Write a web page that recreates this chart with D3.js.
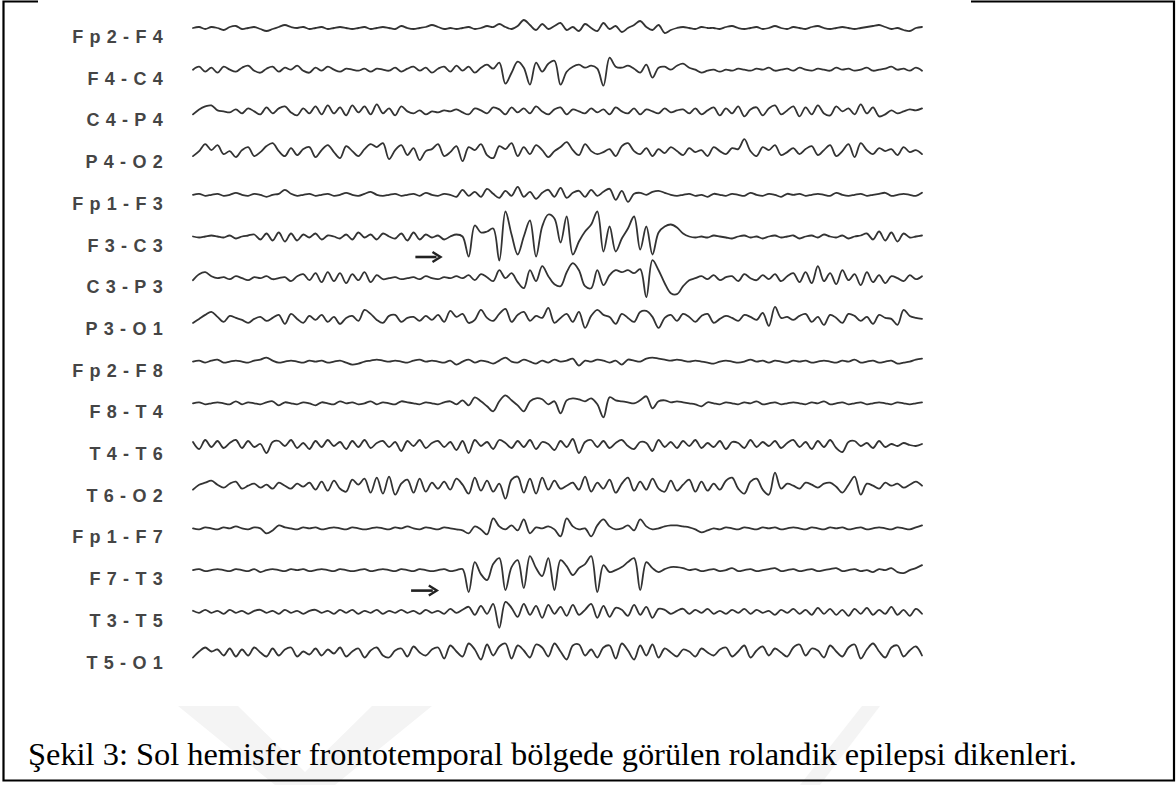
<!DOCTYPE html>
<html>
<head>
<meta charset="utf-8">
<script src="https://cdn.jsdelivr.net/npm/d3@7"></script>
<style>
  html, body { margin: 0; padding: 0; background: #fff; }
  svg { display: block; }
</style>
</head>
<body>
<div id="graph"></div>
<script>
//channel names, top to bottom
var channels = ["Fp2-F4", "F4-C4", "C4-P4", "P4-O2", "Fp1-F3", "F3-C3", "C3-P3", "P3-O1",
                "Fp2-F8", "F8-T4", "T4-T6", "T6-O2", "Fp1-F7", "F7-T3", "T3-T5", "T5-O1"];

//traces (up is positive, roughly in pixels)
var fp2f4 = [0,1,-1,1,0,-2,1,2,-1,0,1,-1,-3,-1,1,3,1,0,1,-1,
  0,1,-1,0,1,0,-1,0,1,-1,0,1,0,-1,2,0,-1,0,1,3,
  1,-1,0,-1,0,1,-1,0,2,1,4,1,-1,2,8,3,-2,4,-1,2,
  5,-2,1,-3,4,0,-3,5,-1,2,-4,0,3,7,1,-2,3,-5,-2,0,
  1,0,-1,1,0,0,-1,1,2,0,-1,0,1,-1,0,2,0,-1,1,0,
  -1,1,2,0,-1,0,1,0,-1,0,1,2,3,1,-1,0,-2,-3,0,1];
var f4c4 = [0,3,-2,2,-3,3,0,-2,2,4,-1,-3,1,3,-2,2,0,4,-1,-3,
  2,-1,3,0,-2,1,0,-1,1,-2,1,0,-1,2,-2,1,3,-1,2,-3,
  1,3,-2,4,-1,3,-3,2,5,1,7,-14,-3,8,2,-15,7,-2,6,9,
  -15,-2,3,5,2,4,1,-16,12,3,2,4,1,-3,5,-8,2,3,0,4,
  6,2,0,-3,-1,0,-2,0,-1,1,0,-1,1,0,2,-1,0,1,-1,2,
  0,-1,1,0,-1,2,0,1,-1,0,2,-1,0,1,3,0,1,-1,2,-1];
var c4p4 = [-3,2,5,6,1,0,-1,2,-2,3,0,-3,4,-2,3,5,-1,-4,3,-2,
  5,-3,6,-2,4,-4,6,-1,5,-3,7,-2,3,-4,5,0,-2,1,-3,0,
  -1,1,0,2,-1,-3,3,1,-2,4,2,-3,4,-1,3,-2,5,0,-3,2,
  4,-3,2,0,-2,3,-1,2,-3,4,0,-2,3,-3,2,0,-2,3,-1,1,
  2,-2,3,-3,1,4,-4,3,-2,5,-5,2,4,-4,3,6,-3,1,5,-5,
  4,-3,6,-2,-4,5,0,3,-3,7,-2,4,-5,-3,1,-2,0,2,1,3];
var p4o2 = [-3,2,9,3,8,-1,2,-4,3,6,-3,1,7,10,2,-3,5,-2,4,6,
  -4,3,8,1,-5,7,2,-3,4,9,6,10,-6,3,8,-2,5,-7,2,4,
  9,-3,1,7,-8,6,3,9,-2,-5,7,4,10,-3,6,-1,8,3,-4,2,
  6,11,3,-2,9,2,-1,1,4,-3,7,10,2,-1,5,-3,4,0,6,2,
  -2,5,1,3,-3,6,2,-1,5,4,14,2,-3,6,3,8,-2,1,5,-1,
  4,7,-2,3,8,-3,2,9,-4,10,3,-1,5,2,4,-2,6,1,3,-1];
var fp1f3 = [0,1,-1,0,1,-1,0,2,0,-1,1,0,-2,0,1,5,1,-1,0,1,
  -1,0,1,-1,0,2,0,-1,1,3,0,-1,0,1,-1,0,1,-1,2,0,
  -1,1,0,-2,5,-1,3,-2,6,1,-3,4,-1,8,-2,3,-4,2,5,-2,
  7,-3,2,4,-2,5,-1,3,6,-5,4,-7,1,2,0,3,4,2,0,-1,
  0,1,-1,0,-2,1,0,-1,1,0,-1,2,0,-1,1,0,-2,1,0,1,
  -1,0,1,0,-1,2,0,-1,0,1,-1,0,1,2,-1,0,1,0,-1,2];
var f3c3 = [0,-1,0,1,0,-1,1,-2,0,1,2,-3,3,-4,4,-5,3,-4,2,-1,
  3,-3,1,0,-2,2,-3,4,-1,2,-3,3,0,-2,3,-4,4,-3,2,-1,
  1,-3,0,2,0,-20,11,4,5,8,-24,25,2,-18,0,16,-20,10,22,18,
  -6,20,-18,-5,5,12,25,-15,10,-15,-2,8,20,-13,10,-18,4,10,12,9,
  3,0,-1,0,-1,1,0,-1,-2,0,1,-1,0,-2,0,1,-1,0,1,-2,
  0,1,-1,2,0,-1,1,-2,0,1,3,-3,5,-4,4,-5,3,-1,0,1];
var c3p3 = [-2,4,6,2,0,1,-1,2,0,-2,1,0,2,-1,0,1,-3,2,4,-2,
  5,-4,6,-3,5,-5,4,-2,6,-4,3,-1,0,1,-1,0,1,-1,2,0,
  -1,1,0,2,0,3,-2,4,1,-3,8,0,5,-4,-10,8,-3,12,2,-6,
  -8,6,15,8,-8,-10,8,-7,3,8,6,8,5,9,-19,18,8,-5,-15,-16,
  -8,-2,0,2,-1,3,-2,1,2,-3,4,0,-2,3,-1,4,-3,2,5,-4,
  6,-5,12,-3,5,-6,8,-2,4,-7,6,-4,3,-5,2,0,-3,3,-1,2];
var p3o1 = [-3,1,5,8,3,-2,4,2,0,-3,1,3,-1,2,5,-4,6,1,-3,4,
  0,5,-2,3,-4,2,4,-1,10,6,0,-3,4,5,-2,2,3,-1,4,0,
  5,-2,9,3,6,-3,0,10,2,-1,6,11,-2,5,8,-1,4,2,12,-3,
  2,6,-2,8,-8,4,10,5,3,-4,6,2,-2,8,9,3,-8,2,5,-1,
  6,3,-2,4,6,-3,1,4,2,-1,5,3,0,7,-6,13,2,3,0,4,
  6,-2,3,-5,5,2,-3,6,4,-1,3,-4,5,2,1,-5,10,4,2,1];
var fp2f8 = [0,1,-1,1,2,-1,0,1,0,-1,1,2,4,1,-1,0,1,0,-1,1,
  0,1,-1,0,1,-1,-3,-2,0,1,2,1,0,1,0,-1,1,2,0,1,
  0,-1,1,-3,0,2,-1,1,0,-2,1,4,0,-1,2,0,-2,1,-1,2,
  0,1,3,-4,1,0,2,1,-1,1,-3,2,1,0,3,4,3,2,1,2,
  1,0,1,0,-1,-2,0,1,0,-1,0,2,0,1,-1,1,0,-1,1,0,
  1,-1,0,1,0,-1,1,0,2,-1,0,1,-1,0,1,-2,-1,0,2,3];
var f8t4 = [0,1,-1,0,1,0,-1,2,-1,1,0,-1,1,2,-2,1,0,-1,1,0,
  -2,1,0,-1,2,0,1,-1,0,2,-1,1,0,-1,2,1,0,-1,1,0,
  -1,1,2,-1,3,-2,6,2,-3,-8,2,8,3,-2,-8,2,5,4,-1,2,
  -10,3,5,4,2,5,-1,-14,6,3,2,1,0,3,7,-5,2,3,1,2,
  1,0,-1,-3,1,0,-1,1,0,-1,1,0,2,-1,0,1,-1,0,1,0,
  -1,1,0,2,-1,0,1,-1,0,1,-1,0,1,0,-1,1,0,-1,0,1];
var t4t6 = [3,-4,5,-2,4,-3,2,5,-3,4,-2,1,-8,3,4,-1,5,-3,2,-4,
  4,-2,5,-1,3,-4,4,-2,5,-3,2,4,-2,3,-6,4,-1,5,-3,2,
  4,-2,3,-5,4,-8,5,-1,3,-4,5,2,-3,4,-2,5,-4,3,1,-5,
  4,-2,6,-8,3,5,-2,4,-3,2,5,-1,-4,3,2,-6,5,-2,3,-3,
  4,-1,5,-3,2,-2,4,-4,3,2,-3,5,-2,3,-1,4,-3,2,5,-2,
  3,-4,4,-2,5,-3,-7,3,4,-1,2,-3,4,-2,1,-1,2,0,-1,1];
var t6o2 = [-3,2,4,6,2,-1,3,5,-2,1,3,-1,2,-2,4,1,-2,3,0,4,
  -3,5,-4,6,-2,-5,7,2,8,-6,9,-7,10,-8,3,7,-6,8,-5,4,
  -2,5,-3,8,2,-7,9,-4,6,-5,3,-12,7,10,-6,8,-7,9,-3,6,
  -2,1,4,-3,10,-5,4,-2,7,-6,3,9,-4,5,-3,8,-2,-5,6,-4,
  2,7,-5,5,-4,3,-3,6,9,-2,-7,5,8,-3,-8,14,-2,3,1,-2,
  4,2,-1,3,4,0,-6,2,10,-8,3,1,-2,4,1,3,-1,2,5,1];
var fp1f7 = [0,-1,1,0,-1,1,0,2,0,-1,1,0,-5,-2,3,1,0,-1,1,0,
  1,-1,0,1,0,-1,1,0,-1,0,1,0,-1,1,0,2,0,-1,1,0,
  -1,1,0,-1,-2,-5,2,-1,-6,10,2,-1,3,-2,9,-5,1,0,2,-1,
  -8,10,2,-1,0,-8,3,9,2,-1,0,3,-2,9,2,-1,0,2,3,3,
  2,1,-1,-4,-2,0,-1,1,0,-1,1,0,-1,1,0,1,-1,0,1,0,
  -1,1,0,-1,1,0,1,-1,0,1,-1,0,1,0,-1,1,0,-1,1,3];
var f7t3 = [0,1,-1,0,1,0,-1,1,0,-1,1,-2,0,1,0,-1,1,0,1,-1,
  0,1,0,-1,1,0,-1,0,1,-1,0,1,0,-1,1,0,-1,1,0,-1,
  0,1,-1,0,1,-22,8,-4,-10,6,12,-20,3,10,-18,14,2,-6,12,-20,
  10,4,-5,2,6,14,-22,5,-2,0,3,8,12,-20,8,2,-2,1,3,3,
  2,0,1,-1,0,1,-1,0,2,-1,0,1,-1,0,1,2,-1,0,1,-1,
  0,1,-1,0,1,2,-1,0,1,-1,0,-2,1,0,2,-2,-3,0,2,5];
var t3t5 = [1,-1,2,-1,1,-2,2,-1,1,-2,1,2,-1,1,-2,2,-1,1,-2,1,
  2,-1,1,-2,2,-1,2,-2,1,-1,2,-2,1,-1,2,-1,1,-2,2,-1,
  1,-2,3,-1,2,5,-3,6,-2,8,-16,10,4,-5,8,-3,6,-6,7,-2,
  5,-4,7,-3,2,8,-6,6,-5,4,2,-4,7,-3,5,-6,3,2,-2,1,
  3,-2,2,-1,3,-2,1,-2,2,-1,3,-2,2,-1,1,-3,2,-1,3,-2,
  2,-3,4,-2,3,-3,2,-4,3,-2,4,-3,2,-2,5,-3,2,-4,3,-2];
var t5o1 = [-4,2,6,2,4,-2,5,-3,4,-2,6,1,-3,5,-2,4,6,-3,2,-1,
  5,-2,4,0,6,-3,2,5,-4,3,6,-2,-4,3,5,-3,7,1,-2,4,
  6,-5,8,2,-3,10,4,-6,9,-2,7,10,-5,8,3,-4,9,6,-3,10,
  2,-6,8,9,-2,4,-4,6,8,-5,10,3,-6,8,-2,9,-4,5,1,-3,
  4,2,-3,5,1,-2,4,6,-3,2,8,-4,3,7,-2,5,1,-3,6,9,
  -2,5,3,-4,8,2,-3,6,9,-5,4,10,2,-4,6,8,-3,3,7,-2];

var traces = [fp2f4, f4c4, c4p4, p4o2, fp1f3, f3c3, c3p3, p3o1,
              fp2f8, f8t4, t4t6, t6o2, fp1f7, f7t3, t3t5, t5o1];

//arrows marking the spike onset: channel they sit under and sample index span
var arrowRows = ["F3-C3", "F7-T3"];
var arrowFrom = [36.3, 35.6];
var arrowTo = [40.4, 39.8];

var caption = "Şekil 3: Sol hemisfer frontotemporal bölgede görülen rolandik epilepsi dikenleri.";

//page size
const width = 1176, height = 785;

const svg = d3.select("#graph").append("svg")
    .attr("width", width)
    .attr("height", height);

//faint watermark behind the caption
svg.append("path")
    .attr("d", "M178,706 L238,706 L305,772 L372,706 L432,706 L335,785 L275,785 Z")
    .attr("fill", "#f4f4f4");
svg.append("path")
    .attr("d", "M862,706 L880,706 L820,785 L800,785 Z")
    .attr("fill", "#f4f4f4");

//frame (top edge is broken where the figure image sat)
const frame = svg.append("g")
    .attr("fill", "none")
    .attr("stroke", "#000")
    .attr("stroke-width", 2.2);
frame.append("path").attr("d", "M38,1.5 L3.5,1.5 L3.5,780.5 L1174,780.5 L1174,1.5 L971,1.5");

//scales
const rowY = d3.scalePoint().domain(channels).range([28, 653.5]);
const amp = d3.scaleLinear().domain([-1, 1]).range([1, -1]);

const line = d3.line()
    .x(function(d){ return d.x; })
    .y(function(d){ return d.y; })
    .curve(d3.curveCatmullRom.alpha(0.5));

//draw traces
const traceG = svg.append("g")
    .attr("fill", "none")
    .attr("stroke", "#333")
    .attr("stroke-width", 1.8)
    .attr("stroke-linejoin", "round")
    .attr("stroke-linecap", "round");

traceG.selectAll("path")
    .data(traces)
    .enter().append("path")
    .attr("d", function(vals, r){
        const x = d3.scaleLinear().domain([0, vals.length - 1]).range([193, 922]);
        const y0 = rowY(channels[r]);
        return line(vals.map(function(v, i){ return {x: x(i), y: y0 + amp(v)}; }));
    });

//channel labels
svg.append("g").selectAll("text")
    .data(channels)
    .enter().append("text")
    .attr("x", 169)
    .attr("y", function(d){ return rowY(d) + 15; })
    .attr("text-anchor", "end")
    .attr("font-family", "Liberation Sans, Arial, sans-serif")
    .attr("font-weight", "bold")
    .attr("font-size", "18px")
    .attr("letter-spacing", "6.3px")
    .attr("fill", "#454545")
    .text(function(d){ return d; });

//arrows
const ax = d3.scaleLinear().domain([0, 119]).range([193, 922]);
const arrowG = svg.append("g");
arrowRows.forEach(function(row, i){
    const y = rowY(row) + 20.5;
    const x1 = ax(arrowFrom[i]), x2 = ax(arrowTo[i]);
    arrowG.append("line")
        .attr("x1", x1).attr("y1", y)
        .attr("x2", x2 - 4).attr("y2", y)
        .attr("stroke", "#222")
        .attr("stroke-width", 2.6);
    arrowG.append("path")
        .attr("d", "M" + (x2 - 8) + "," + (y - 5) + " L" + x2 + "," + y + " L" + (x2 - 8) + "," + (y + 5))
        .attr("fill", "none")
        .attr("stroke", "#222")
        .attr("stroke-width", 2.4);
});

//caption
svg.append("text")
    .attr("x", 28)
    .attr("y", 765)
    .attr("font-family", "Liberation Serif, Times New Roman, serif")
    .attr("font-size", "32.4px")
    .attr("fill", "#000")
    .text(caption);
</script>
</body>
</html>
